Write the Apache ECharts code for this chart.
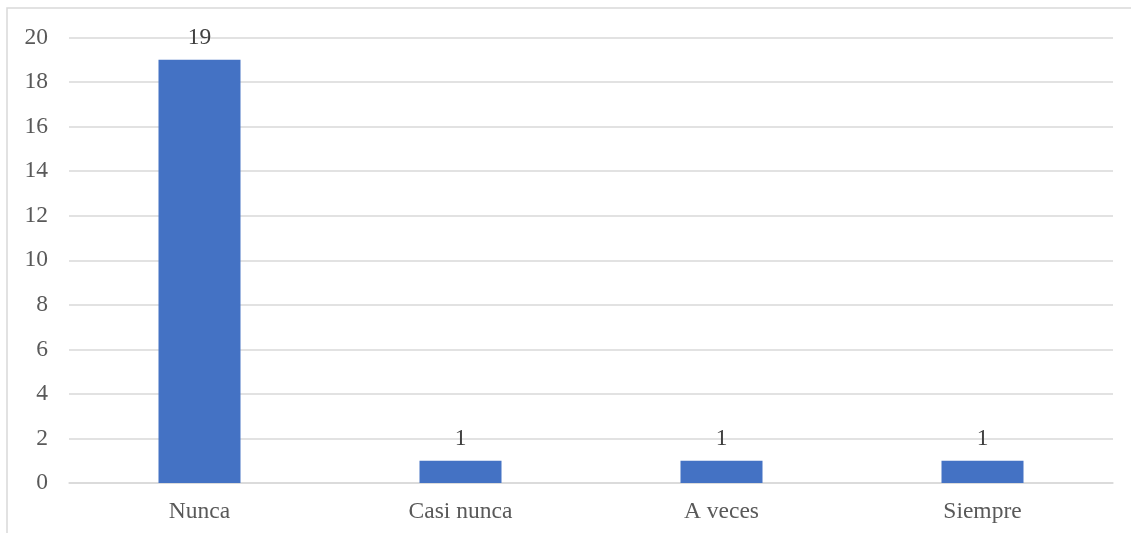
<!DOCTYPE html>
<html><head><meta charset="utf-8">
<script src="https://cdn.jsdelivr.net/npm/echarts@6/dist/echarts.min.js"></script>
<style>html,body{margin:0;padding:0;background:#fff}#c{width:1131px;height:533px}</style>
</head><body><div id="c"></div>
<script>
const categories = ['Nunca', 'Casi nunca', 'A veces', 'Siempre'];
const values = [19, 1, 1, 1];
const font = '"Liberation Serif", "Times New Roman", serif';
const chart = echarts.init(document.getElementById('c'), null, {renderer: 'canvas'});
chart.setOption({
  animation: false,
  graphic: [{type: 'rect', shape: {x: 7, y: 8, width: 1300, height: 700}, style: {fill: 'none', stroke: '#d9d9d9', lineWidth: 1.5}, z: -1}],
  grid: {left: 69, right: 18, top: 37.5, bottom: 50, containLabel: false},
  xAxis: {
    type: 'category', data: categories,
    axisLine: {show: true, lineStyle: {color: '#d9d9d9', width: 1.5}},
    axisTick: {show: false},
    axisLabel: {color: '#595959', fontFamily: font, fontSize: 23.5, margin: 17}
  },
  yAxis: {
    type: 'value', min: 0, max: 20, interval: 2,
    axisLine: {show: false}, axisTick: {show: false},
    splitLine: {lineStyle: {color: '#d9d9d9', width: 1.5}},
    axisLabel: {color: '#595959', fontFamily: font, fontSize: 23.5, margin: 21}
  },
  series: [{
    type: 'bar', data: values, barWidth: 82, itemStyle: {color: '#4472C4'},
    label: {show: true, position: 'top', distance: 10, color: '#404040', fontFamily: font, fontSize: 23.5}
  }]
});
</script></body></html>
